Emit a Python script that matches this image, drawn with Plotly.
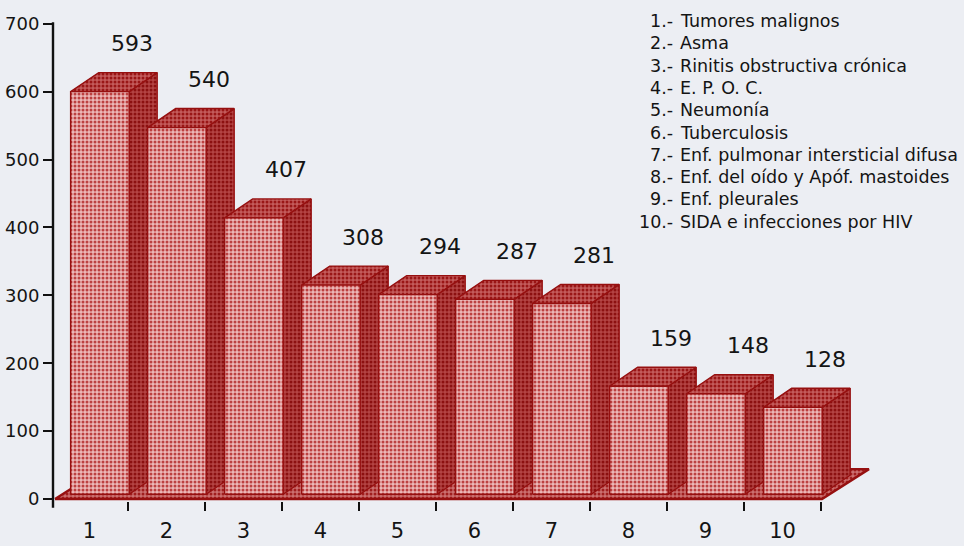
import plotly.graph_objects as go

# ---------------- data ----------------
categories = ["1", "2", "3", "4", "5", "6", "7", "8", "9", "10"]
values = [593, 540, 407, 308, 294, 287, 281, 159, 148, 128]
legend_labels = [
    "Tumores malignos",
    "Asma",
    "Rinitis obstructiva crónica",
    "E. P. O. C.",
    "Neumonía",
    "Tuberculosis",
    "Enf. pulmonar intersticial difusa",
    "Enf. del oído y Apóf. mastoides",
    "Enf. pleurales",
    "SIDA e infecciones por HIV",
]
y_ticks = [0, 100, 200, 300, 400, 500, 600, 700]

# ---------------- style / geometry ----------------
W, H = 964, 546
ML = 53                       # left margin (y axis position)
PX_PER_X = 77.0               # pixels per category slot
X0 = 1 - (89.5 - ML) / PX_PER_X
X1 = X0 + (W - ML) / PX_PER_X
PX_PER_Y = 0.679              # pixels per value unit
Y0_PX = 499                   # pixel row of value 0
YMAX = Y0_PX / PX_PER_Y
YMIN = -(H - Y0_PX) / PX_PER_Y

BG = "#eceef3"
EDGE = "#961010"
FRONT_BG, FRONT_FG = "#ecb8b8", "#bc4040"
TOP_BG, TOP_FG = "#c45c5c", "#9a1616"
SIDE_BG, SIDE_FG = "#b44444", "#8c1010"
FLOOR_BG, FLOOR_FG = "#cc7070", "#a01e1e"
FONT = "DejaVu Sans"

bar_left, bar_right = -0.245, 0.515   # front face relative to slot centre
depth_dx, depth_dy = 0.364, 28.0      # bar depth offset (x units, value units)
base = 7.0                            # bar front base (value units)
floor_dx, floor_dy = 0.61, 44.0


def poly(xs, ys, bg, fg, lw=1.4):
    return go.Scatter(
        x=xs + [xs[0]], y=ys + [ys[0]], mode="lines", fill="toself",
        line=dict(color=EDGE, width=lw),
        fillcolor=bg,
        fillpattern=dict(shape=".", bgcolor=bg, fgcolor=fg, size=4, solidity=0.45),
        hoverinfo="skip", showlegend=False,
    )


fig = go.Figure()

# floor
n = len(categories)
fx0 = 0.552
fx1 = n + bar_right - 0.002
fig.add_trace(poly([fx0, fx1, fx1 + floor_dx, fx0 + floor_dx],
                   [0, 0, floor_dy, floor_dy], FLOOR_BG, FLOOR_FG, lw=2.4))

# bars
for i, v in enumerate(values, start=1):
    xl, xr = i + bar_left, i + bar_right
    yb, yt = base, base + v
    # side
    fig.add_trace(poly([xr, xr + depth_dx, xr + depth_dx, xr],
                       [yb, yb + depth_dy, yt + depth_dy, yt], SIDE_BG, SIDE_FG))
    # top
    fig.add_trace(poly([xl, xr, xr + depth_dx, xl + depth_dx],
                       [yt, yt, yt + depth_dy, yt + depth_dy], TOP_BG, TOP_FG))
    # front
    fig.add_trace(poly([xl, xr, xr, xl], [yb, yb, yt, yt], FRONT_BG, FRONT_FG))

# value labels
annotations = []
for i, v in enumerate(values, start=1):
    annotations.append(dict(
        x=i + (bar_left + bar_right) / 2 + depth_dx + 0.05, y=base + v + depth_dy,
        xref="x", yref="y", text=str(v), showarrow=False,
        yanchor="middle", yshift=29,
        font=dict(family=FONT, size=22, color="#141414"),
    ))

# legend text
for k, lab in enumerate(legend_labels):
    ypx = 21 + 22.3 * k
    yp = 1 - ypx / H
    annotations.append(dict(
        x=(675 - ML) / (W - ML), y=yp, xref="paper", yref="paper",
        text=f"{k + 1}.-", showarrow=False, xanchor="right", yanchor="middle",
        font=dict(family=FONT, size=17.5, color="#141414"),
    ))
    annotations.append(dict(
        x=(678 - ML) / (W - ML), y=yp, xref="paper", yref="paper",
        text=lab, showarrow=False, xanchor="left", yanchor="middle",
        font=dict(family=FONT, size=17.5, color="#141414"),
    ))

fig.update_layout(
    width=W, height=H,
    margin=dict(l=ML, r=0, t=0, b=0),
    paper_bgcolor=BG, plot_bgcolor=BG,
    template="none",
    showlegend=False,
    annotations=annotations,
    xaxis=dict(
        range=[X0, X1], showgrid=False, zeroline=False, showline=False,
        tickvals=[i + 0.5 for i in range(1, n + 1)], showticklabels=False,
        ticks="outside", ticklen=9, tickwidth=1.6, tickcolor="#111",
        anchor="free", position=1 - 501 / H, automargin=False,
    ),
    xaxis2=dict(
        range=[X0, X1], overlaying="x", showgrid=False, zeroline=False,
        showline=False, ticks="", tickvals=list(range(1, n + 1)),
        ticktext=categories, anchor="free", position=1 - 516 / H,
        tickfont=dict(family=FONT, size=21, color="#141414"), automargin=False,
    ),
    yaxis=dict(
        range=[YMIN, YMAX], showgrid=False, zeroline=False, showline=False,
        tickvals=y_ticks, ticks="outside", ticklen=9, tickwidth=2,
        tickcolor="#111", tickfont=dict(family=FONT, size=18, color="#141414"),
        automargin=False,
    ),
    shapes=[dict(type="line", xref="paper", yref="y", x0=0, x1=0,
                 y0=-13, y1=y_ticks[-1] + 2, line=dict(color="#111", width=2.4))],
)

# invisible trace to activate xaxis2
fig.add_trace(go.Scatter(x=[1], y=[0], xaxis="x2", mode="markers",
                         marker=dict(opacity=0), hoverinfo="skip", showlegend=False))

fig.write_html(
    "out.html",
    config={"displayModeBar": False},
    post_script="document.body.style.margin='0';document.body.style.background='%s';" % BG,
)
